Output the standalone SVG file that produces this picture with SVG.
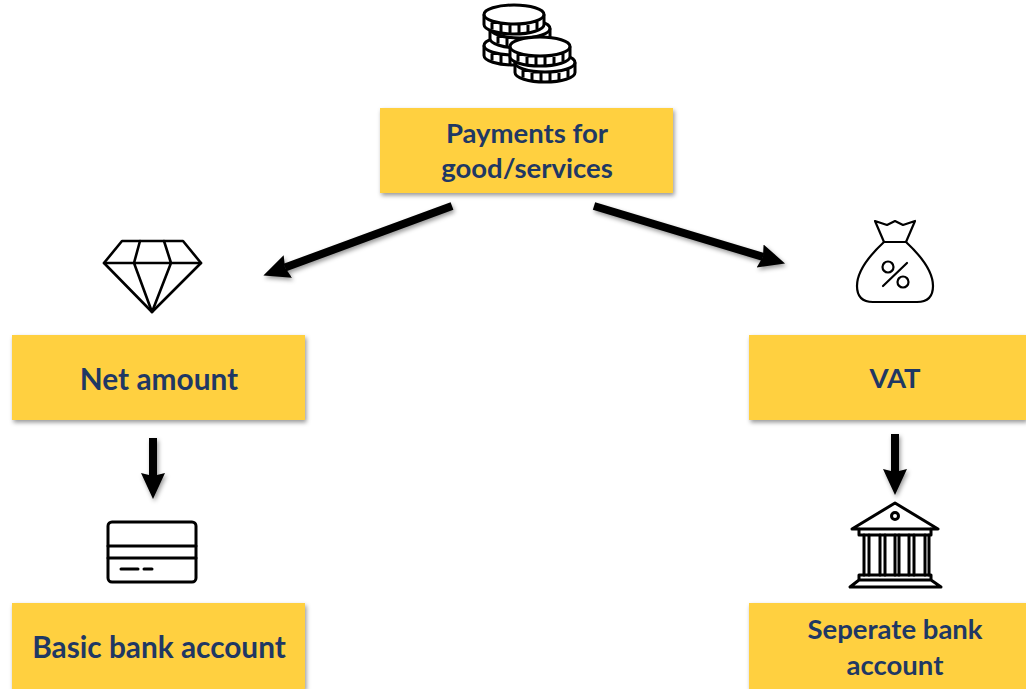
<svg xmlns="http://www.w3.org/2000/svg" width="1026" height="689" viewBox="0 0 1026 689">
<defs>
<filter id="sh" x="-5%" y="-10%" width="110%" height="125%"><feDropShadow dx="1.500" dy="2.500" stdDeviation="2" flood-color="#000" flood-opacity="0.4"/></filter>
<filter id="shc" filterUnits="userSpaceOnUse" x="0" y="0" width="1026" height="689"><feDropShadow dx="1.500" dy="2.500" stdDeviation="2" flood-color="#000" flood-opacity="0.4"/></filter>
<marker id="ah" markerUnits="userSpaceOnUse" markerWidth="30" markerHeight="28" refX="3" refY="13" orient="auto"><path d="M0 1L26 13L0 25L3 13Z" fill="#000"/></marker>
<g id="coin">
<path fill="#fff" d="M0 9.500A30 9.500 0 0 1 60 9.500V19.500A30 9.500 0 0 1 0 19.500Z"/>
<path d="M0 9.500A30 9.500 0 0 0 60 9.500M8 15.500v9M17 18v10M26 19v10M35 19v10M44 18v10M53 15.500v9"/>
</g>
</defs>
<style>
.box{fill:#ffd041;filter:url(#sh)}
.lbl{font-family:"Lato","Open Sans",sans-serif;font-weight:700;font-size:27.500px;fill:#1f3864;text-anchor:middle}
.lg{font-size:29.800px}
.ic{fill:none;stroke:#000;stroke-width:2.600;stroke-linejoin:round;stroke-linecap:round}
.coins{fill:none;stroke:#000;stroke-width:3;stroke-linejoin:round}
.con{stroke:#000;stroke-width:8;fill:none;marker-end:url(#ah)}
</style>
<g id="connectors" filter="url(#shc)">
<path class="con" d="M452 206L285 267.500"/>
<path class="con" d="M594 206L763 256.800"/>
<path class="con" d="M153 438V476"/>
<path class="con" d="M895 434V472"/>
</g>
<g id="node-payments">
<rect class="box" x="380" y="108" width="293" height="85"/>
<text class="lbl" x="527" y="143">Payments for</text>
<text class="lbl" x="527" y="178">good/services</text>
<g id="icon-coins" class="coins">
<use href="#coin" x="484" y="36"/>
<use href="#coin" x="490" y="19"/>
<use href="#coin" x="484" y="5"/>
<use href="#coin" x="515" y="53"/>
<use href="#coin" x="510" y="37"/>
</g>
</g>
<g id="node-net">
<rect class="box" x="12" y="335" width="293" height="85"/>
<text class="lbl lg" x="159" y="390">Net amount</text>
<g id="icon-diamond" class="ic">
<path d="M122 241H183L201 263L152 312L104 263Z"/>
<path d="M104 263H201M140 241L134 263L152 312L171 263L164 241"/>
</g>
</g>
<g id="node-vat">
<rect class="box" x="749" y="335" width="277" height="85"/>
<text class="lbl" x="895" y="388">VAT</text>
<g id="icon-bag" class="ic" style="stroke-width:2.200">
<path d="M875 221L887 225L895 221L903 225L915 221L906 242H884Z"/>
<path d="M884 242C870 255 857 270 857 286C857 297 863 302 873 302H917C927 302 933 297 933 286C933 270 920 255 906 242"/>
<circle cx="888" cy="267" r="5.500"/><circle cx="903" cy="282" r="5.500"/><path d="M907 263L883 286"/>
</g>
</g>
<g id="node-basic">
<rect class="box" x="12" y="603" width="293" height="86"/>
<text class="lbl lg" x="159" y="658">Basic bank account</text>
<g id="icon-card" class="ic" style="stroke-width:3">
<rect x="108" y="522" width="88" height="60" rx="4"/>
<path d="M108 546H196M108 558H196"/>
<path d="M121 569H138M144 569H152"/>
</g>
</g>
<g id="node-separate">
<rect class="box" x="749" y="603" width="277" height="86"/>
<text class="lbl" x="895" y="639">Seperate bank</text>
<text class="lbl" x="895" y="675">account</text>
<g id="icon-bank" class="ic" style="stroke-width:3">
<path d="M895 503L938 529H852Z"/>
<circle cx="895" cy="516" r="3.500"/>
<path d="M859 529V535H931V529"/>
<path d="M864 535V575M869 535V575M880 535V575M885 535V575M895 535V575M899 535V575M909 535V575M914 535V575M925 535V575M929 535V575"/>
<path d="M859 575H931V580H859ZM859 580L850 587H941L931 580"/>
</g>
</g>
</svg>
